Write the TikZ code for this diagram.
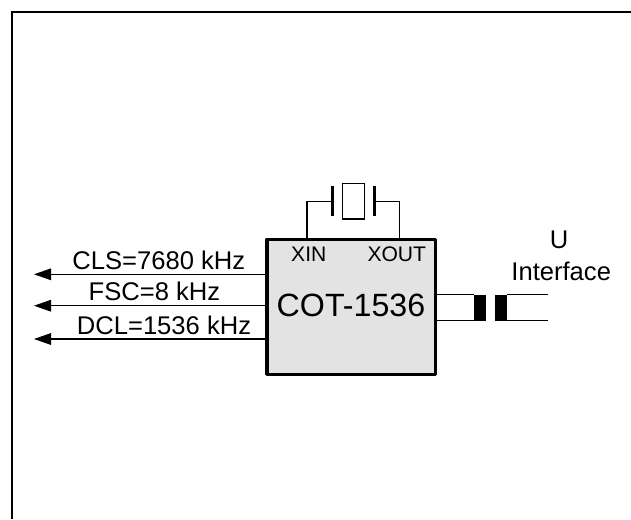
\documentclass[tikz,border=0pt]{standalone}
\usepackage{fontspec}
\setmainfont{Liberation Sans}
\usepackage{tikz}
\usetikzlibrary{arrows.meta,calc,positioning}
\definecolor{ink}{HTML}{000000}
\definecolor{chipgray}{HTML}{E3E3E3}
\tikzset{
  wire/.style={line width=0.8pt,color=ink},
  outwire/.style={wire,-{Triangle[length=0.425cm,width=0.29cm]}},
  plate/.style={fill=ink,draw=none,minimum width=0.06cm,minimum height=0.75cm,inner sep=0pt,outer sep=0pt},
  corebar/.style={fill=ink,draw=none,minimum width=0.3cm,minimum height=0.65cm,inner sep=0pt,outer sep=0pt},
  siglabel/.style={font=\fontsize{18.2}{21}\selectfont,color=ink,inner sep=0pt},
  pinlabel/.style={font=\fontsize{15}{18}\selectfont,color=ink,inner sep=0pt}
}
\begin{document}
\begin{tikzpicture}
  \useasboundingbox (0,0) rectangle (15.775,12.975);
  \fill[white] (0,0) rectangle (15.775,12.975);
  \draw[line width=1.6pt,color=ink] (0.3,0) -- (0.3,12.675) -- (15.775,12.675);

  \node[draw=ink,line width=2.5pt,line join=round,fill=chipgray,minimum width=4.21cm,minimum height=3.375cm,inner sep=0pt,outer sep=0pt] (chip) at (8.78,5.305) {};
  \node[font=\fontsize{22.9}{27}\selectfont,color=ink,inner sep=0pt] (chipname) at (8.775,5.35) {COT-1536};
  \node[pinlabel] (xinlabel) at (7.72,6.62) {XIN};
  \node[pinlabel] (xoutlabel) at (9.92,6.62) {XOUT};

  % crystal
  \node[draw=ink,line width=1pt,minimum width=0.55cm,minimum height=0.88cm,inner sep=0pt,outer sep=0pt] (xtal) at (8.83,7.9425) {};
  \node[plate] (platel) at (8.31,7.9425) {};
  \node[plate] (plater) at (9.36,7.9425) {};
  \coordinate (xinpin) at (7.675,6.62);
  \coordinate (xoutpin) at (9.9925,6.62);
  \draw[wire] (platel.west) -| (chip.north -| xinpin);
  \draw[wire] (plater.east) -| (chip.north -| xoutpin);

  % outputs
  \coordinate (clsend) at (0.85,6.1175);
  \coordinate (fscend) at (0.85,5.3325);
  \coordinate (dclend) at (0.85,4.5);
  \draw[outwire] (chip.west |- clsend) -- (clsend);
  \draw[outwire] (chip.west |- fscend) -- (fscend);
  \draw[outwire] (chip.west |- dclend) -- (dclend);
  \node[siglabel] (clslabel) at (3.97,6.47) {CLS=7680 kHz};
  \node[siglabel] (fsclabel) at (3.86,5.69) {FSC=8 kHz};
  \node[siglabel] (dcllabel) at (4.1,4.83) {DCL=1536 kHz};

  % line side
  \node[corebar] (corea) at (12.0,5.2825) {};
  \node[corebar] (coreb) at (12.52,5.2825) {};
  \coordinate (lineend) at (13.69,5.2825);
  \draw[wire] (chip.east |- corea.north) -- (corea.north west);
  \draw[wire] (chip.east |- corea.south) -- (corea.south west);
  \draw[wire] (coreb.north east) -- (lineend |- coreb.north);
  \draw[wire] (coreb.south east) -- (lineend |- coreb.south);
  \node[siglabel] (ulabel) at (13.98,6.975) {U};
  \node[siglabel] (iflabel) at (14.03,6.18) {Interface};
\end{tikzpicture}
\end{document}
